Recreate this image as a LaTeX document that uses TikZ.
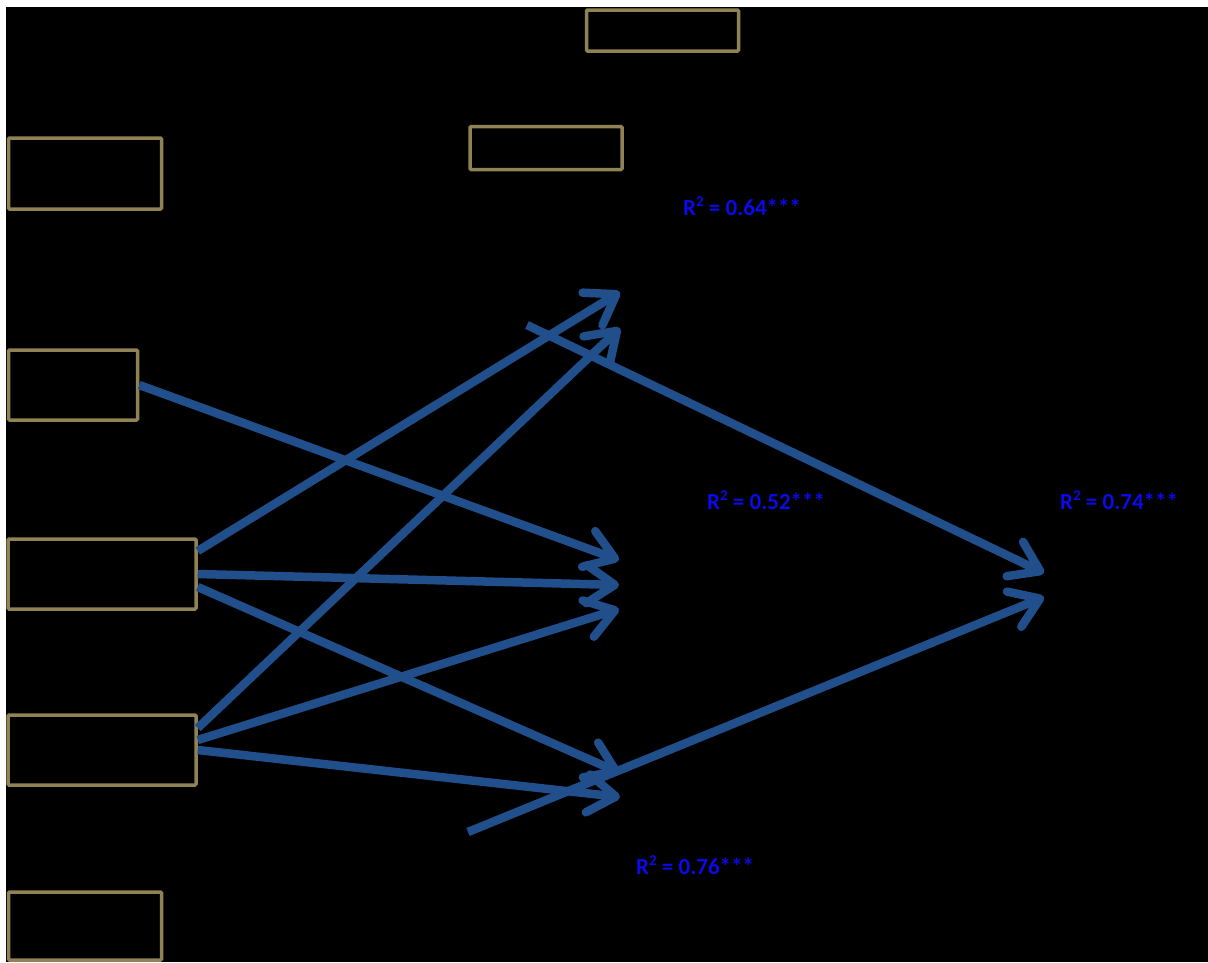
\documentclass[tikz,border=0pt]{standalone}
\usepackage{fontspec}
\setmainfont{Carlito}[BoldFont={Carlito Bold}]
\usetikzlibrary{arrows.meta}
\definecolor{boxline}{RGB}{143,130,84}
\definecolor{pathblue}{RGB}{33,79,139}
\definecolor{rsq}{RGB}{10,10,235}
\newcommand{\rsqsym}{R\raisebox{0.36em}{\fontsize{15}{15}\selectfont 2}}
\begin{document}
\begin{tikzpicture}[x=1pt,y=-1pt,
  box/.style={draw=boxline,line width=3.5pt,rounded corners=1pt,inner sep=0pt},
  path/.style={draw=pathblue,line width=8.5pt,
    -{Straight Barb[length=28pt,width=38pt,line cap=round,line join=round]}},
  rlabel/.style={text=rsq,font=\bfseries\fontsize{23}{27}\selectfont,inner sep=0pt,anchor=base west}]
% canvas
\fill[white] (0,0) rectangle (1208,962);
\fill[black] (6,7) rectangle (1208,962);
\useasboundingbox (0,0) rectangle (1208,962);
% variable boxes
\node[box,minimum width=152pt,minimum height=41pt] (top) at (662.5,30.5) {};
\node[box,minimum width=152pt,minimum height=43pt] (mid) at (546,148) {};
\node[box,minimum width=153pt,minimum height=71pt] (b1) at (85,173.5) {};
\node[box,minimum width=129pt,minimum height=70pt] (b2) at (73,385) {};
\node[box,minimum width=188pt,minimum height=70pt] (b3) at (102,574) {};
\node[box,minimum width=188pt,minimum height=70pt] (b4) at (102,750) {};
\node[box,minimum width=153pt,minimum height=68pt] (b5) at (85,926) {};
% path end points
\coordinate (t1) at (620,292);
\coordinate (t2) at (620,328);
\coordinate (t3) at (619,560);
\coordinate (t4) at (619,585);
\coordinate (t5) at (619,609);
\coordinate (t6) at (620,773);
\coordinate (t7) at (620,797);
\coordinate (s8) at (527,325);
\coordinate (s9) at (468,832);
\coordinate (t8) at (1044,573);
\coordinate (t9) at (1044,597);
% paths
\draw[path] (b2.east) -- (t3);
\draw[path] ([yshift=23pt]b3.east) -- (t1);
\draw[path] (b3.east) -- (t4);
\draw[path] ([yshift=-13pt]b3.east) -- (t6);
\draw[path] ([yshift=22pt]b4.east) -- (t2);
\draw[path] ([yshift=10pt]b4.east) -- (t5);
\draw[path] (b4.east) -- (t7);
\draw[path] (s8) -- (t8);
\draw[path] (s9) -- (t9);
% explained variance
\node[rlabel] (r1) at (683,215) {\rsqsym{} = 0.64***};
\node[rlabel] (r2) at (707,509) {\rsqsym{} = 0.52***};
\node[rlabel] (r3) at (1060,509) {\rsqsym{} = 0.74***};
\node[rlabel] (r4) at (636,874) {\rsqsym{} = 0.76***};
\end{tikzpicture}
\end{document}
